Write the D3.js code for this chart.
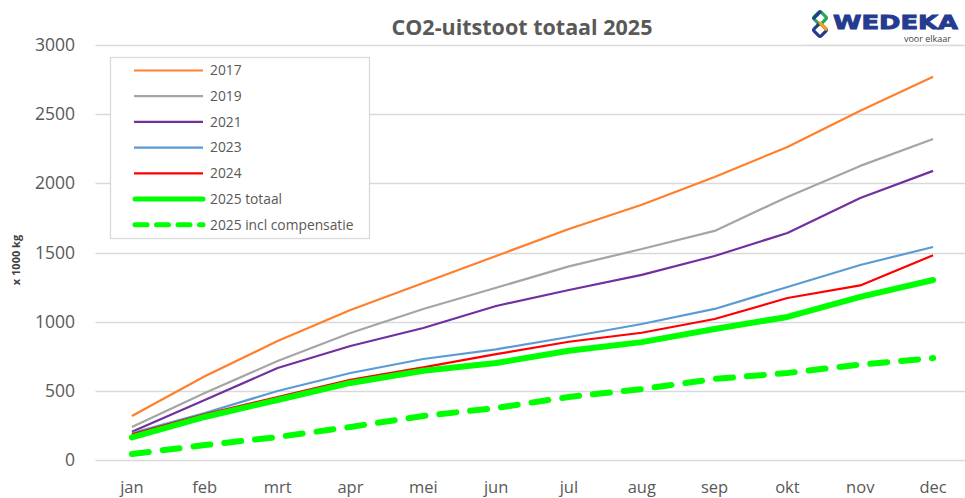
<!DOCTYPE html>
<html>
<head>
<meta charset="utf-8">
<script src="https://cdn.jsdelivr.net/npm/d3@7"></script>
<style>
  body { margin: 0; background: #fff; }
  svg { display: block; font-family: "Open Sans", sans-serif; }
</style>
</head>
<body>
<svg id="chart" width="965" height="498"></svg>
<script>
// data
var months = ["jan", "feb", "mrt", "apr", "mei", "jun", "jul", "aug", "sep", "okt", "nov", "dec"];
var yTicks = [0, 500, 1000, 1500, 2000, 2500, 3000];
var v2017 = [318, 605, 860, 1085, 1280, 1475, 1670, 1845, 2046, 2263, 2525, 2770];
var v2019 = [239, 484, 716, 918, 1092, 1245, 1400, 1525, 1656, 1902, 2126, 2321];
var v2021 = [205, 434, 665, 824, 954, 1113, 1229, 1338, 1475, 1641, 1894, 2090];
var v2023 = [195, 340, 499, 629, 730, 800, 889, 983, 1092, 1251, 1410, 1540];
var v2024 = [185, 330, 455, 580, 670, 765, 855, 920, 1019, 1171, 1262, 1480];
var v2025 = [163, 311, 434, 557, 645, 701, 790, 852, 947, 1034, 1179, 1301];
var v2025comp = [43, 108, 166, 239, 318, 376, 456, 513, 586, 629, 690, 737];

var series = [
  { name: "2017", values: v2017, color: "#ff7f2a", width: 2.2 },
  { name: "2019", values: v2019, color: "#a5a5a5", width: 2.2 },
  { name: "2021", values: v2021, color: "#7030a0", width: 2.2 },
  { name: "2023", values: v2023, color: "#5b9bd5", width: 2.2 },
  { name: "2024", values: v2024, color: "#ff0000", width: 2.2 },
  { name: "2025 totaal", values: v2025, color: "#00ff00", width: 6 },
  { name: "2025 incl compensatie", values: v2025comp, color: "#00ff00", width: 6, dash: true }
];

var svg = d3.select("#chart");
var plotLeft = 95.5, plotRight = 969.5, plotTop = 45, plotBottom = 460;

var x = d3.scalePoint().domain(months).range([plotLeft, plotRight]).padding(0.5);
var y = d3.scaleLinear().domain([0, 3000]).range([plotBottom, plotTop]);

// gridlines
svg.append("g").selectAll("line")
  .data(yTicks)
  .join("line")
  .attr("x1", plotLeft).attr("x2", 965)
  .attr("y1", d => Math.round(y(d)) + 0.5).attr("y2", d => Math.round(y(d)) + 0.5)
  .attr("stroke", "#d9d9d9")
  .attr("stroke-width", 1.3);

// y tick labels
svg.append("g").selectAll("text")
  .data(yTicks)
  .join("text")
  .attr("x", 75)
  .attr("y", d => y(d))
  .attr("dy", "0.35em")
  .attr("text-anchor", "end")
  .attr("font-size", 17.5)
  .attr("fill", "#595959")
  .text(d => d);

// x tick labels
svg.append("g").selectAll("text")
  .data(months)
  .join("text")
  .attr("x", d => x(d))
  .attr("y", 493)
  .attr("text-anchor", "middle")
  .attr("font-size", 16.5)
  .attr("fill", "#595959")
  .text(d => d);

// y axis title
svg.append("text")
  .attr("transform", "translate(20,260) rotate(-90)")
  .attr("text-anchor", "middle")
  .attr("font-size", 11)
  .attr("font-weight", "bold")
  .attr("fill", "#404040")
  .text("x 1000 kg");

// title
svg.append("text")
  .attr("x", 522)
  .attr("y", 35)
  .attr("text-anchor", "middle")
  .attr("font-size", 21.5)
  .attr("font-weight", "bold")
  .attr("fill", "#595959")
  .text("CO2-uitstoot totaal 2025");

// lines
var line = d3.line()
  .x((d, i) => x(months[i]))
  .y(d => y(d));

svg.append("g").selectAll("path")
  .data(series)
  .join("path")
  .attr("d", d => line(d.values))
  .attr("fill", "none")
  .attr("stroke", d => d.color)
  .attr("stroke-width", d => d.width)
  .attr("stroke-linejoin", "round")
  .attr("stroke-linecap", d => d.width > 3 ? "round" : "butt")
  .attr("stroke-dasharray", d => d.dash ? "17,14" : null);

// legend
var legend = svg.append("g");
legend.append("rect")
  .attr("x", 110.5).attr("y", 57.5)
  .attr("width", 259).attr("height", 181)
  .attr("fill", "#fff")
  .attr("stroke", "#d9d9d9")
  .attr("stroke-width", 1.3);

var item = legend.selectAll("g")
  .data(series)
  .join("g")
  .attr("transform", (d, i) => `translate(0,${70.5 + i * 25.7})`);

item.append("line")
  .attr("x1", d => d.width > 3 ? 135 : 134)
  .attr("x2", 203)
  .attr("stroke", d => d.color)
  .attr("stroke-width", d => d.width > 3 ? 5 : 2.2)
  .attr("stroke-linecap", d => d.width > 3 ? "round" : "butt")
  .attr("stroke-dasharray", d => d.dash ? "12,9.5" : null);

item.append("text")
  .attr("x", 210)
  .attr("dy", "0.35em")
  .attr("font-size", 13.8)
  .attr("fill", "#595959")
  .text(d => d.name);

// logo
var logo = svg.append("g");
logo.append("line")
  .attr("x1", 805).attr("x2", 962).attr("y1", 44.5).attr("y2", 44.5)
  .attr("stroke", "#eeeeee");
// two linked diamonds
logo.append("rect")
  .attr("x", -5).attr("y", -5).attr("width", 10).attr("height", 10).attr("rx", 2)
  .attr("transform", "translate(820,18) rotate(45)")
  .attr("fill", "none").attr("stroke", "#25a65b").attr("stroke-width", 3.2);
logo.append("rect")
  .attr("x", -5).attr("y", -5).attr("width", 10).attr("height", 10).attr("rx", 2)
  .attr("transform", "translate(820,30) rotate(45)")
  .attr("fill", "none").attr("stroke", "#243b8f").attr("stroke-width", 3.2);
logo.append("path")
  .attr("d", "M820,23 L826,29")
  .attr("stroke", "#f5a11c").attr("stroke-width", 3.2).attr("stroke-linecap", "round");
logo.append("path")
  .attr("d", "M814,18 L820,12")
  .attr("stroke", "#243b8f").attr("stroke-width", 3.2).attr("stroke-linecap", "round");
logo.append("text")
  .attr("x", 833).attr("y", 29)
  .attr("font-family", "'DejaVu Sans', sans-serif")
  .attr("font-size", 19)
  .attr("font-weight", "900")
  .attr("fill", "#243b8f")
  .attr("stroke", "#243b8f")
  .attr("stroke-width", 0.9)
  .attr("textLength", 125)
  .attr("lengthAdjust", "spacingAndGlyphs")
  .text("WEDEKA");
logo.append("text")
  .attr("x", 951).attr("y", 42)
  .attr("text-anchor", "end")
  .attr("font-size", 9)
  .attr("fill", "#444")
  .text("voor elkaar");
</script>
</body>
</html>
